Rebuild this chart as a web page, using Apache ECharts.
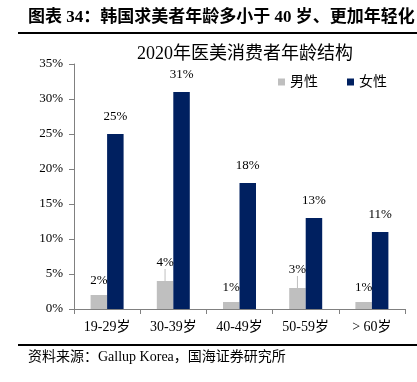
<!DOCTYPE html>
<html>
<head>
<meta charset="utf-8">
<script src="https://cdn.jsdelivr.net/npm/echarts@6/dist/echarts.min.js"></script>
<style>
  html, body { margin: 0; padding: 0; background: #fff; }
  #chart { width: 417px; height: 382px; }
</style>
</head>
<body>
<div id="chart"></div>
<script>
const categories = ["19-29岁", "30-39岁", "40-49岁", "50-59岁", "> 60岁"];
const maleValues = [2, 4, 1, 3, 1];
const femaleValues = [25, 31, 18, 13, 11];
const yTicks = [0, 5, 10, 15, 20, 25, 30, 35];

const serif = "'Liberation Serif', 'Noto Sans CJK SC', serif";

const myChart = echarts.init(document.getElementById("chart"));

// 男性标签：数值较大时标签上移并带引线
const maleData = maleValues.map(function (v) {
  return { value: v, labelLine: { show: v >= 3 } };
});

const option = {
  animation: false,
  textStyle: { fontFamily: serif, color: "#000" },
  title: {
    text: "2020年医美消费者年龄结构",
    left: 240,
    textAlign: "center",
    top: 40,
    textStyle: { fontFamily: serif, fontSize: 18, fontWeight: "normal", color: "#000" },
  },
  legend: {
    data: ["男性", "女性"],
    left: 273,
    top: 70,
    itemWidth: 7,
    itemHeight: 7,
    itemGap: 29,
    icon: "rect",
    textStyle: { fontFamily: serif, fontSize: 14, color: "#000" },
  },
  graphic: [
    {
      type: "text",
      left: 28,
      top: 9,
      style: {
        text: "图表 34：韩国求美者年龄多小于 40 岁、更加年轻化",
        font: "bold 17px " + serif,
        fill: "#000",
      },
    },
    {
      type: "rect",
      shape: { x: 18, y: 32, width: 399, height: 2 },
      style: { fill: "#000" },
    },
    {
      type: "rect",
      shape: { x: 18, y: 344, width: 399, height: 2 },
      style: { fill: "#000" },
    },
    {
      type: "text",
      left: 28,
      top: 350,
      style: {
        text: "资料来源：Gallup Korea，国海证券研究所",
        font: "14px " + serif,
        fill: "#000",
      },
    },
  ],
  grid: { left: 74, right: 12, top: 64, bottom: 73, containLabel: false },
  xAxis: {
    type: "category",
    data: categories,
    axisLine: { lineStyle: { color: "#808080", width: 1 } },
    axisTick: { show: true, inside: false, length: 5, lineStyle: { color: "#808080" } },
    axisLabel: { fontFamily: serif, fontSize: 14, color: "#000", margin: 11 },
  },
  yAxis: {
    type: "value",
    min: yTicks[0],
    max: yTicks[yTicks.length - 1],
    interval: 5,
    splitLine: { show: false },
    axisLine: { show: true, lineStyle: { color: "#808080", width: 1 } },
    axisTick: { show: true, length: 5, lineStyle: { color: "#808080" } },
    axisLabel: { fontFamily: serif, fontSize: 13, color: "#000", margin: 11, formatter: "{value}%" },
  },
  series: [
    {
      name: "男性",
      type: "bar",
      data: maleData,
      barWidth: 16.5,
      barGap: "0%",
      itemStyle: { color: "#BFBFBF" },
      label: {
        show: true,
        position: "top",
        distance: 2,
        formatter: "{c}%",
        fontFamily: serif,
        fontSize: 13,
        color: "#000",
      },
      labelLayout: function (params) {
        return { dy: maleValues[params.dataIndex] >= 3 ? -10 : -6 };
      },
      labelLine: { lineStyle: { color: "#BFBFBF", width: 1 } },
    },
    {
      name: "女性",
      type: "bar",
      data: femaleValues,
      barWidth: 16.5,
      barGap: "0%",
      itemStyle: { color: "#002060" },
      label: {
        show: true,
        position: "top",
        distance: 11,
        formatter: "{c}%",
        fontFamily: serif,
        fontSize: 13,
        color: "#000",
      },
    },
  ],
};

myChart.setOption(option);
</script>
</body>
</html>
